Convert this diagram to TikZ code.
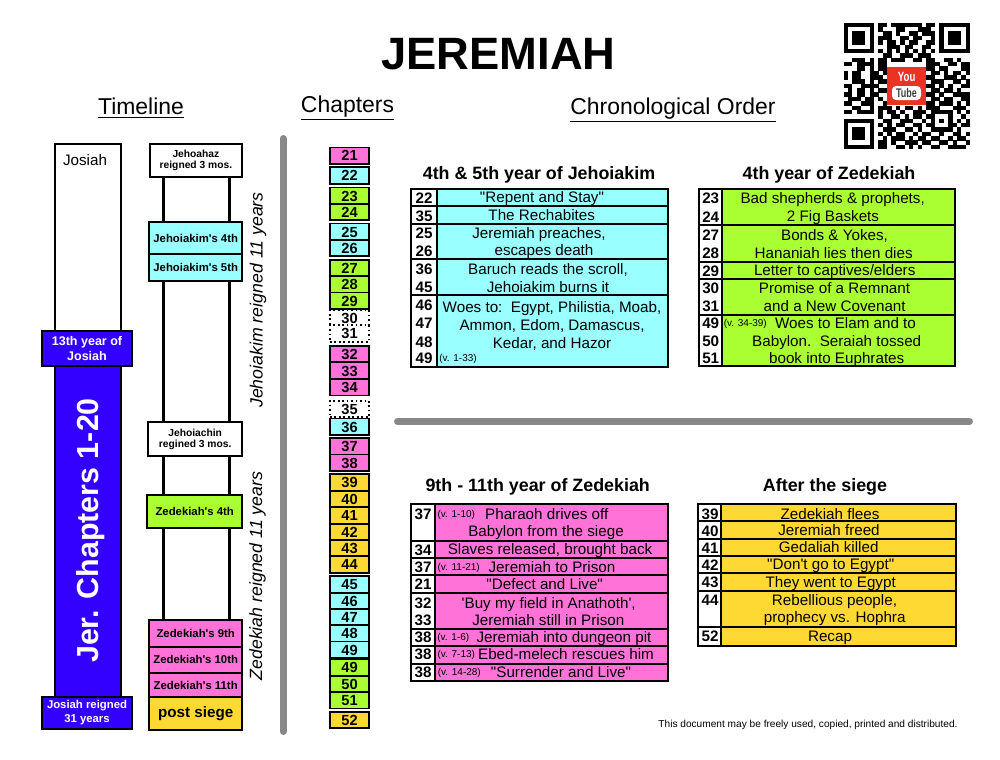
\documentclass[tikz,border=0pt]{standalone}
\usepackage{graphicx}
\usepackage{fontspec}
\setmainfont{Liberation Sans}[Ligatures=TeXOff]
\usepackage{xcolor}
\definecolor{pnk}{HTML}{FF73D9}
\definecolor{cyn}{HTML}{99FFFF}
\definecolor{grn}{HTML}{AAFF33}
\definecolor{gld}{HTML}{FFD933}
\definecolor{blu}{HTML}{3300FF}
\definecolor{sepgray}{HTML}{888888}
\definecolor{ytred}{HTML}{EA3323}
\newcommand{\px}{0.75pt}
\tikzset{
  box/.style={draw=black, line width=1.35pt, inner sep=0pt, outer sep=0pt, fill=white},
  chap/.style={box, minimum width=39*\px, minimum height=16.4*\px, font=\fontsize{11}{13}\bfseries\selectfont, text height=8pt, text depth=0pt},
  chapdot/.style={chap, dotted},
  cell/.style={box, line width=1.3pt},
  rowtxt/.style={inner sep=0pt, font=\fontsize{11.4}{13}\selectfont, text height=8.2pt, text depth=0pt},
  rownum/.style={inner sep=0pt, font=\fontsize{11.4}{13}\bfseries\selectfont, text height=8.2pt, text depth=0pt},
  rowv/.style={inner sep=0pt, font=\fontsize{7.5}{9}\selectfont, text height=5.4pt, text depth=0pt},
  subhead/.style={inner sep=0pt, font=\fontsize{13.4}{16}\bfseries\selectfont, text height=9.6pt, text depth=0pt},
  head/.style={inner sep=0pt, font=\fontsize{17.2}{20}\selectfont},
  reignbox/.style={box, font=\fontsize{8.5}{8.3}\bfseries\selectfont, align=center},
  reignsmall/.style={reignbox, font=\fontsize{7.7}{8.3}\bfseries\selectfont},
  whitetxt/.style={box, fill=blu, text=white, font=\fontsize{9.4}{10.7}\bfseries\selectfont, align=center},
  sideways/.style={inner sep=0pt, rotate=90, font=\fontsize{13.3}{16}\itshape\selectfont},
  sepline/.style={sepgray, line width=5.25pt, line cap=round},
  reignline/.style={black, line width=1.6pt}
}
\begin{document}
\begin{tikzpicture}[x=0.75pt,y=-0.75pt]
\useasboundingbox (0,0) rectangle (1000,760);

% titles
\node[inner sep=0pt, font=\fontsize{34}{40}\bfseries\selectfont] (title) at (498.5,54.5) {JEREMIAH};
\node[head] (timeline) at (141,108) {\underline{Timeline}};
\node[head] (chapters) at (347.5,108) {\underline{Chapters}};
\node[head] (chrono) at (673,110) {\underline{Chronological Order}};

% qr code
\begin{scope}[shift={(843.5,22.7)},x=3.27pt,y=-3.27pt]
\foreach \qc/\qr in {0/0,22/0,0/22} {
  \fill (\qc,\qr) rectangle +(7,7);
  \fill[white] (\qc+1,\qr+1) rectangle +(5,5);
  \fill (\qc+2,\qr+2) rectangle +(3,3);
}
\foreach \qr/\qcols in {
  0/{8,9,11,12,13,14,15,16,17,19,20},
  1/{8,12,13,17,18,19},
  2/{9,10,12,15,16,18,19,20},
  3/{8,9,10,13,14,16,17,20},
  4/{8,10,11,13,15,16,19,20},
  5/{10,11,12,14,15,18,19},
  6/{8,10,12,14,16,18,20},
  7/{9,10,13,14,15,17,18,19},
  8/{2,3,4,6,8,9,11,12,13,16,17,19,20,23,24,26},
  9/{0,1,3,4,5,6,8,9,19,20,21,24,25,27,28},
  10/{3,4,6,8,9,19,20,22,23,27,28},
  11/{0,2,3,6,7,9,20,21,23,25,26,28},
  12/{0,2,3,6,7,8,19,20,23,24,25,27},
  13/{2,3,4,6,8,9,20,21,22,25,26,28},
  14/{0,1,4,5,6,7,19,20,22,24,27,28},
  15/{1,3,4,6,8,9,20,21,23,24,26},
  16/{0,1,3,4,6,7,19,20,22,25,26,27,28},
  17/{1,2,3,5,6,8,20,21,23,24,27,28},
  18/{0,1,4,5,6,9,19,20,22,23,24,26,28},
  19/{2,3,6,8,9,10,12,14,15,17,19,20,21,25,26,27},
  20/{0,1,3,4,5,6,8,10,11,13,16,17,18,20,21,22,23,24,26,28},
  21/{8,11,12,14,16,17,19,20,24,27},
  22/{9,10,13,14,15,18,20,22,24,26,28},
  23/{8,10,12,13,16,17,19,20,24,25,27,28},
  24/{9,10,11,14,15,17,20,21,22,23,24,26},
  25/{8,10,12,13,16,18,19,22,25,26,28},
  26/{9,11,12,13,15,17,18,20,21,24,26,27},
  27/{8,9,11,14,15,16,18,19,22,23,25,28},
  28/{8,9,12,13,15,17,20,21,24,25,26,27}} {
  \foreach \qc in \qcols \fill (\qc,\qr) rectangle +(1.03,1.03);
}
\end{scope}
\node[fill=ytred, inner sep=0pt, minimum width=38.7*\px, minimum height=38.3*\px] (ytlogo) at (906.6,85.8) {};
\node[inner sep=0pt, text=white, font=\fontsize{10}{12}\bfseries\selectfont] (ytyou) at (906.7,77.3) {\scalebox{0.72}[1]{You}};
\node[fill=white, rounded corners=3pt, inner sep=0pt, text=black!75, minimum width=29*\px, minimum height=14*\px, font=\fontsize{9.4}{12}\bfseries\selectfont] (yttube) at (906.5,93) {\scalebox{0.72}[1]{Tube}};

% separators
\draw[sepline] (283,138.5) -- (283,731.5);
\draw[sepline] (397.5,421.5) -- (969.5,421.5);

% josiah column
\node[box, minimum width=65.7*\px, minimum height=187*\px] (josiah) at (87.8,237.5) {};
\node[rowtxt] (josiahtxt) at (85,160) {Josiah};
\node[box, fill=blu, minimum width=65.7*\px, minimum height=331*\px] (jerbar) at (87.8,531.5) {};
\node[inner sep=0pt, rotate=90, text=white, font=\fontsize{22.8}{26}\bfseries\selectfont] (jertxt) at (91,530.5) {Jer. Chapters 1-20};
\node[whitetxt, minimum width=90.6*\px, minimum height=35*\px] (thirteenth) at (87,348.5) {13th year of\\Josiah};
\node[whitetxt, minimum width=90.6*\px, minimum height=32*\px, font=\fontsize{8.5}{10.5}\bfseries\selectfont] (josiah31) at (87,713) {Josiah reigned\\31 years};

% kings column
\node[reignsmall, minimum width=91.7*\px, minimum height=32.7*\px] (jehoahaz) at (195.9,160.3) {Jehoahaz\\reigned 3 mos.};
\node[reignbox, fill=cyn, minimum width=93.3*\px, minimum height=31.7*\px] (jk4) at (195.7,238.2) {\raisebox{-1.5pt}{Jehoiakim's 4th}};
\node[reignbox, fill=cyn, minimum width=93.3*\px, minimum height=27*\px] (jk5) at (195.7,267.5) {Jehoiakim's 5th};
\node[reignsmall, minimum width=94.3*\px, minimum height=33.4*\px] (jehoiachin) at (195.2,439) {Jehoiachin\\regined 3 mos.};
\node[reignbox, fill=grn, minimum width=95.3*\px, minimum height=32.7*\px] (zd4) at (194.7,511.3) {Zedekiah's 4th};
\node[reignbox, fill=pnk, minimum width=93.3*\px, minimum height=26.7*\px] (zd9) at (195.7,633.3) {Zedekiah's 9th};
\node[reignbox, fill=pnk, minimum width=93.3*\px, minimum height=26.3*\px] (zd10) at (195.7,659.8) {Zedekiah's 10th};
\node[reignbox, fill=pnk, minimum width=93.3*\px, minimum height=24.3*\px] (zd11) at (195.7,685.1) {Zedekiah's 11th};
\node[reignbox, fill=gld, minimum width=93.3*\px, minimum height=32.7*\px, font=\fontsize{11.4}{13}\bfseries\selectfont] (postsiege) at (195.7,713.6) {post siege};
\draw[reignline] (jehoahaz.south -| 163.5,0) -- (jk4.north -| 163.5,0);
\draw[reignline] (jehoahaz.south -| 229.5,0) -- (jk4.north -| 229.5,0);
\draw[reignline] (jk5.south -| 163.5,0) -- (jehoiachin.north -| 163.5,0);
\draw[reignline] (jk5.south -| 229.5,0) -- (jehoiachin.north -| 229.5,0);
\draw[reignline] (jehoiachin.south -| 163.5,0) -- (zd4.north -| 163.5,0);
\draw[reignline] (jehoiachin.south -| 229.5,0) -- (zd4.north -| 229.5,0);
\draw[reignline] (zd4.south -| 163.5,0) -- (zd9.north -| 163.5,0);
\draw[reignline] (zd4.south -| 229.5,0) -- (zd9.north -| 229.5,0);
\node[sideways] (jkreign) at (258,300) {Jehoiakim reigned 11 years};
\node[sideways] (zdreign) at (257.5,576) {Zedekiah reigned 11 years};

% chapters column
\node[chap, fill=pnk] (c21) at (349.5,155.6) {21};
\node[chap, fill=cyn] (c22) at (349.5,175.5) {22};
\node[chap, fill=grn] (c23) at (349.5,195.7) {23};
\node[chap, fill=grn] (c24) at (349.5,212) {24};
\node[chap, fill=cyn] (c25) at (349.5,231.7) {25};
\node[chap, fill=cyn] (c26) at (349.5,248) {26};
\node[chap, fill=grn] (c27) at (349.5,268) {27};
\node[chap, fill=grn] (c28) at (349.5,284.4) {28};
\node[chap, fill=grn] (c29) at (349.5,300.7) {29};
\node[chapdot] (c30) at (349.5,318.3) {30};
\node[chapdot] (c31) at (349.5,333.4) {31};
\node[chap, fill=pnk] (c32) at (349.5,354) {32};
\node[chap, fill=pnk] (c33) at (349.5,370.7) {33};
\node[chap, fill=pnk] (c34) at (349.5,387.2) {34};
\node[chapdot] (c35) at (349.5,408.9) {35};
\node[chap, fill=cyn] (c36) at (349.5,426.7) {36};
\node[chap, fill=pnk] (c37) at (349.5,446.2) {37};
\node[chap, fill=pnk] (c38) at (349.5,462.7) {38};
\node[chap, fill=gld] (c39) at (349.5,482.5) {39};
\node[chap, fill=gld] (c40) at (349.5,499) {40};
\node[chap, fill=gld] (c41) at (349.5,515.5) {41};
\node[chap, fill=gld] (c42) at (349.5,531.9) {42};
\node[chap, fill=gld] (c43) at (349.5,548.2) {43};
\node[chap, fill=gld] (c44) at (349.5,564.5) {44};
\node[chap, fill=cyn] (c45) at (349.5,584.2) {45};
\node[chap, fill=cyn] (c46) at (349.5,600.9) {46};
\node[chap, fill=cyn] (c47) at (349.5,617.2) {47};
\node[chap, fill=cyn] (c48) at (349.5,633.5) {48};
\node[chap, fill=cyn] (c49a) at (349.5,649.7) {49};
\node[chap, fill=grn] (c49b) at (349.5,667.5) {49};
\node[chap, fill=grn] (c50) at (349.5,684.2) {50};
\node[chap, fill=grn] (c51) at (349.5,700.3) {51};
\node[chap, fill=gld] (c52) at (349.5,720) {52};

% 4th & 5th year of jehoiakim
\node[subhead] (jkhead) at (539,173) {4th \& 5th year of Jehoiakim};
\node[cell, minimum width=26*\px, minimum height=17*\px] (ja1) at (424,197.5) {};
\node[cell, fill=cyn, minimum width=231.5*\px, minimum height=17*\px] (jb1) at (552.5,197.5) {};
\node[cell, minimum width=26*\px, minimum height=17.7*\px] (ja2) at (424,214.85) {};
\node[cell, fill=cyn, minimum width=231.5*\px, minimum height=17.7*\px] (jb2) at (552.5,214.85) {};
\node[cell, minimum width=26*\px, minimum height=35.6*\px] (ja3) at (424,241.5) {};
\node[cell, fill=cyn, minimum width=231.5*\px, minimum height=35.6*\px] (jb3) at (552.5,241.5) {};
\node[cell, minimum width=26*\px, minimum height=36*\px] (ja4) at (424,277.3) {};
\node[cell, fill=cyn, minimum width=231.5*\px, minimum height=36*\px] (jb4) at (552.5,277.3) {};
\node[cell, minimum width=26*\px, minimum height=71.4*\px] (ja5) at (424,331) {};
\node[cell, fill=cyn, minimum width=231.5*\px, minimum height=71.4*\px] (jb5) at (552.5,331) {};
\node[rownum] (jn22) at (424,198) {22};
\node[rownum] (jn35) at (424,215.7) {35};
\node[rownum] (jn25) at (424,233.3) {25};
\node[rownum] (jn26) at (424,251) {26};
\node[rownum] (jn36) at (424,269) {36};
\node[rownum] (jn45) at (424,286.7) {45};
\node[rownum] (jn46) at (424,305.3) {46};
\node[rownum] (jn47) at (424,323.3) {47};
\node[rownum] (jn48) at (424,341.7) {48};
\node[rownum] (jn49) at (424,358) {49};
\node[rowtxt] (repent) at (542,197.5) {"Repent and Stay"};
\node[rowtxt] (rechab) at (541.7,215.3) {The Rechabites};
\node[rowtxt] (jerpreach) at (539,233.3) {Jeremiah preaches,};
\node[rowtxt] (escapes) at (544,250.3) {escapes death};
\node[rowtxt] (baruch) at (548,269) {Baruch reads the scroll,};
\node[rowtxt] (burns) at (548,286.7) {Jehoiakim burns it};
\node[rowtxt] (woes) at (552,307.5) {Woes to:~~Egypt, Philistia, Moab,};
\node[rowtxt] (ammon) at (552,325) {Ammon, Edom, Damascus,};
\node[rowtxt] (kedar) at (552,342.7) {Kedar, and Hazor};
\node[rowv] (vonea) at (458,358.3) {(v. 1-33)};

% 4th year of zedekiah
\node[subhead] (zdhead) at (829,173) {4th year of Zedekiah};
\node[cell, minimum width=23.3*\px, minimum height=36.3*\px] (za1) at (710.7,207.15) {};
\node[cell, fill=grn, minimum width=232.7*\px, minimum height=36.3*\px] (zb1) at (838.7,207.15) {};
\node[cell, minimum width=23.3*\px, minimum height=36.4*\px] (za2) at (710.7,243.5) {};
\node[cell, fill=grn, minimum width=232.7*\px, minimum height=36.4*\px] (zb2) at (838.7,243.5) {};
\node[cell, minimum width=23.3*\px, minimum height=17.3*\px] (za3) at (710.7,270.35) {};
\node[cell, fill=grn, minimum width=232.7*\px, minimum height=17.3*\px] (zb3) at (838.7,270.35) {};
\node[cell, minimum width=23.3*\px, minimum height=36*\px] (za4) at (710.7,297) {};
\node[cell, fill=grn, minimum width=232.7*\px, minimum height=36*\px] (zb4) at (838.7,297) {};
\node[cell, minimum width=23.3*\px, minimum height=50.7*\px] (za5) at (710.7,340.35) {};
\node[cell, fill=grn, minimum width=232.7*\px, minimum height=50.7*\px] (zb5) at (838.7,340.35) {};
\node[rownum] (zn23) at (710.7,198.3) {23};
\node[rownum] (zn24) at (710.7,216.7) {24};
\node[rownum] (zn27) at (710.7,235.3) {27};
\node[rownum] (zn28) at (710.7,253.3) {28};
\node[rownum] (zn29) at (710.7,270.7) {29};
\node[rownum] (zn30) at (710.7,288.3) {30};
\node[rownum] (zn31) at (710.7,306) {31};
\node[rownum] (zn49) at (710.7,323.3) {49};
\node[rownum] (zn50) at (710.7,341) {50};
\node[rownum] (zn51) at (710.7,358.3) {51};
\node[rowtxt] (shepherds) at (832.7,198.3) {Bad shepherds \& prophets,};
\node[rowtxt] (figs) at (833,215.7) {2 Fig Baskets};
\node[rowtxt] (bonds) at (834.5,235.3) {Bonds \& Yokes,};
\node[rowtxt] (hananiah) at (833.7,252.7) {Hananiah lies then dies};
\node[rowtxt] (letter) at (834.7,270) {Letter to captives/elders};
\node[rowtxt] (promise) at (834.5,287.7) {Promise of a Remnant};
\node[rowtxt] (covenant) at (834.7,305.7) {and a New Covenant};
\node[rowv] (vthirtyfour) at (745.3,323.3) {(v. 34-39)};
\node[rowtxt] (elam) at (845.5,323.3) {Woes to Elam and to};
\node[rowtxt] (seraiah) at (836.7,340.7) {Babylon.~~Seraiah tossed};
\node[rowtxt] (euphrates) at (836.7,358.3) {book into Euphrates};

% 9th - 11th year of zedekiah
\node[subhead] (siegehead) at (537.7,485.3) {9th - 11th year of Zedekiah};
\node[cell, minimum width=24*\px, minimum height=36.7*\px] (sa1) at (423,522.35) {};
\node[cell, fill=pnk, minimum width=233.3*\px, minimum height=36.7*\px] (sb1) at (551.7,522.35) {};
\node[cell, minimum width=24*\px, minimum height=17.6*\px] (sa2) at (423,549.5) {};
\node[cell, fill=pnk, minimum width=233.3*\px, minimum height=17.6*\px] (sb2) at (551.7,549.5) {};
\node[cell, minimum width=24*\px, minimum height=17*\px] (sa3) at (423,566.8) {};
\node[cell, fill=pnk, minimum width=233.3*\px, minimum height=17*\px] (sb3) at (551.7,566.8) {};
\node[cell, minimum width=24*\px, minimum height=17.4*\px] (sa4) at (423,584) {};
\node[cell, fill=pnk, minimum width=233.3*\px, minimum height=17.4*\px] (sb4) at (551.7,584) {};
\node[cell, minimum width=24*\px, minimum height=36.6*\px] (sa5) at (423,611) {};
\node[cell, fill=pnk, minimum width=233.3*\px, minimum height=36.6*\px] (sb5) at (551.7,611) {};
\node[cell, minimum width=24*\px, minimum height=17*\px] (sa6) at (423,637.8) {};
\node[cell, fill=pnk, minimum width=233.3*\px, minimum height=17*\px] (sb6) at (551.7,637.8) {};
\node[cell, minimum width=24*\px, minimum height=17.4*\px] (sa7) at (423,655) {};
\node[cell, fill=pnk, minimum width=233.3*\px, minimum height=17.4*\px] (sb7) at (551.7,655) {};
\node[cell, minimum width=24*\px, minimum height=17*\px] (sa8) at (423,672.2) {};
\node[cell, fill=pnk, minimum width=233.3*\px, minimum height=17*\px] (sb8) at (551.7,672.2) {};
\node[rownum] (sn37a) at (423,514) {37};
\node[rownum] (sn34) at (423,549.7) {34};
\node[rownum] (sn37b) at (423,567) {37};
\node[rownum] (sn21) at (423,584.3) {21};
\node[rownum] (sn32) at (423,602.7) {32};
\node[rownum] (sn33) at (423,620) {33};
\node[rownum] (sn38a) at (423,637.3) {38};
\node[rownum] (sn38b) at (423,654.3) {38};
\node[rownum] (sn38c) at (423,671.7) {38};
\node[rowv] (vtena) at (456.3,514.3) {(v. 1-10)};
\node[rowtxt] (pharaoh) at (546.7,514) {Pharaoh drives off};
\node[rowtxt] (babsiege) at (546,531.3) {Babylon from the siege};
\node[rowtxt] (slaves) at (550,549.3) {Slaves released, brought back};
\node[rowv] (veleven) at (458.7,567) {(v. 11-21)};
\node[rowtxt] (toprison) at (552,567) {Jeremiah to Prison};
\node[rowtxt] (defect) at (544.7,584.3) {"Defect and Live"};
\node[rowtxt] (anathoth) at (548.7,602.7) {'Buy my field in Anathoth',};
\node[rowtxt] (stillprison) at (548.3,620) {Jeremiah still in Prison};
\node[rowv] (vonesix) at (453.3,637.3) {(v. 1-6)};
\node[rowtxt] (dungeon) at (564,637.3) {Jeremiah into dungeon pit};
\node[rowv] (vseven) at (456.3,654.3) {(v. 7-13)};
\node[rowtxt] (ebed) at (566,654.3) {Ebed-melech rescues him};
\node[rowv] (vfourteen) at (459.3,671.7) {(v. 14-28)};
\node[rowtxt] (surrender) at (561,671.7) {"Surrender and Live"};

% after the siege
\node[subhead] (afterhead) at (825,485.3) {After the siege};
\node[cell, minimum width=22.7*\px, minimum height=17.3*\px] (aa1) at (709.7,512.65) {};
\node[cell, fill=gld, minimum width=234.7*\px, minimum height=17.3*\px] (ab1) at (838.35,512.65) {};
\node[cell, minimum width=22.7*\px, minimum height=17.4*\px] (aa2) at (709.7,530) {};
\node[cell, fill=gld, minimum width=234.7*\px, minimum height=17.4*\px] (ab2) at (838.35,530) {};
\node[cell, minimum width=22.7*\px, minimum height=17.3*\px] (aa3) at (709.7,547.35) {};
\node[cell, fill=gld, minimum width=234.7*\px, minimum height=17.3*\px] (ab3) at (838.35,547.35) {};
\node[cell, minimum width=22.7*\px, minimum height=17.3*\px] (aa4) at (709.7,564.65) {};
\node[cell, fill=gld, minimum width=234.7*\px, minimum height=17.3*\px] (ab4) at (838.35,564.65) {};
\node[cell, minimum width=22.7*\px, minimum height=17.4*\px] (aa5) at (709.7,582) {};
\node[cell, fill=gld, minimum width=234.7*\px, minimum height=17.4*\px] (ab5) at (838.35,582) {};
\node[cell, minimum width=22.7*\px, minimum height=36*\px] (aa6) at (709.7,608.7) {};
\node[cell, fill=gld, minimum width=234.7*\px, minimum height=36*\px] (ab6) at (838.35,608.7) {};
\node[cell, minimum width=22.7*\px, minimum height=19.3*\px] (aa7) at (709.7,636.35) {};
\node[cell, fill=gld, minimum width=234.7*\px, minimum height=19.3*\px] (ab7) at (838.35,636.35) {};
\node[rownum] (an39) at (710,514) {39};
\node[rownum] (an40) at (710,531) {40};
\node[rownum] (an41) at (710,547.7) {41};
\node[rownum] (an42) at (710,565) {42};
\node[rownum] (an43) at (710,582.3) {43};
\node[rownum] (an44) at (710,600) {44};
\node[rownum] (an52) at (710,636) {52};
\node[rowtxt] (flees) at (830,513.7) {Zedekiah flees};
\node[rowtxt] (freed) at (829,530) {Jeremiah freed};
\node[rowtxt] (gedaliah) at (828.7,547.3) {Gedaliah killed};
\node[rowtxt] (dontgo) at (830.7,564.3) {"Don't go to Egypt"};
\node[rowtxt] (wentegypt) at (830.7,581.7) {They went to Egypt};
\node[rowtxt] (rebellious) at (834.5,600) {Rebellious people,};
\node[rowtxt] (hophra) at (834.7,617) {prophecy vs. Hophra};
\node[rowtxt] (recap) at (830,636) {Recap};

\node[inner sep=0pt, font=\fontsize{7.6}{9}\selectfont] (freeuse) at (808,724.5) {This document may be freely used, copied, printed and distributed.};
\end{tikzpicture}
\end{document}
